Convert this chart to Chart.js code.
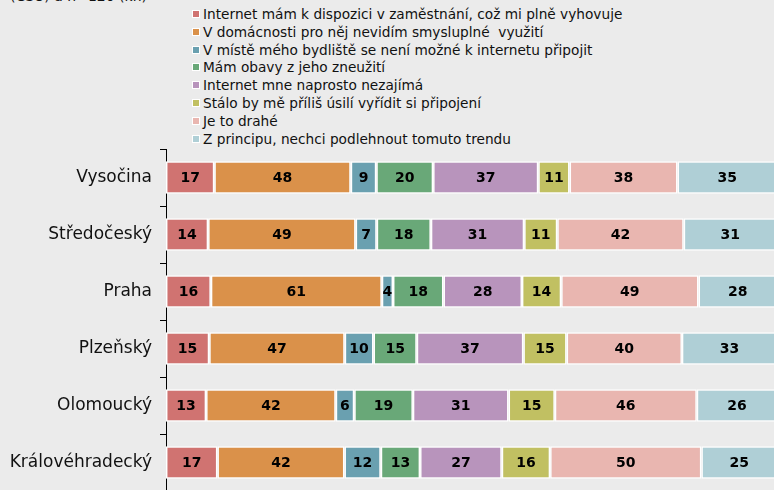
<!DOCTYPE html>
<html>
<head>
<meta charset="utf-8">
<script src="https://cdn.jsdelivr.net/npm/chart.js@4/dist/chart.umd.min.js"></script>
<style>
  html, body { margin: 0; padding: 0; background: #ebebeb; overflow: hidden; width: 774px; height: 490px; }
  #wrap { position: relative; width: 774px; height: 490px; overflow: hidden; }
  #note { position: absolute; left: 10px; top: -12px; font: 14px "DejaVu Sans", Verdana, sans-serif; color: #111; }
  #legend { position: absolute; left: 192px; top: 6px; font: 13.7px "DejaVu Sans", Verdana, sans-serif; color: #111; }
  #legend div { height: 17.8px; line-height: 17.8px; white-space: pre; }
  #legend span.box { display: inline-block; width: 6px; height: 6px; margin-right: 3px; vertical-align: 1px; border: 1px solid #fff; }
  canvas { position: absolute; left: 0; top: 0; }
</style>
</head>
<body>
<div id="wrap">
  <div id="note">(ČSÚ) a n=120 (kh)</div>
  <div id="legend"></div>
  <canvas id="myChart" width="777" height="491"></canvas>
</div>
<script>
const regions = ['Vysočina', 'Středočeský', 'Praha', 'Plzeňský', 'Olomoucký', 'Královéhradecký'];

const seriesNames = [
    'Internet mám k dispozici v zaměstnání, což mi plně vyhovuje',
    'V domácnosti pro něj nevidím smysluplné  využití',
    'V místě mého bydliště se není možné k internetu připojit',
    'Mám obavy z jeho zneužití',
    'Internet mne naprosto nezajímá',
    'Stálo by mě příliš úsilí vyřídit si připojení',
    'Je to drahé',
    'Z principu, nechci podlehnout tomuto trendu'
];

const colors = ['#d07371', '#da914a', '#6aa0b0', '#69a878', '#b894bc', '#c1c062', '#e9b6b0', '#afcfd6'];

// values per answer, in the order of regions
const zamestnani = [17, 14, 16, 15, 13, 17];
const nevyuziti  = [48, 49, 61, 47, 42, 42];
const nelzePripojit = [9, 7, 4, 10, 6, 12];
const obavy      = [20, 18, 18, 15, 19, 13];
const nezajima   = [37, 31, 28, 37, 31, 27];
const usili      = [11, 11, 14, 15, 15, 16];
const drahe      = [38, 42, 49, 40, 46, 50];
const zPrincipu  = [35, 31, 28, 33, 26, 25];

const allSeries = [zamestnani, nevyuziti, nelzePripojit, obavy, nezajima, usili, drahe, zPrincipu];

// each bar is stretched to 100 %, the labels keep the raw counts
let rowTotals = regions.map((r, i) => allSeries.reduce((s, arr) => s + arr[i], 0));

let datasets = allSeries.map((arr, k) => ({
    label: seriesNames[k],
    data: arr.map((v, i) => v / rowTotals[i] * 100),
    raw: arr,
    backgroundColor: colors[k],
    borderColor: '#ffffff',
    borderWidth: 1.5,
    borderSkipped: false,
    categoryPercentage: 1,
    barPercentage: 0.57
}));

// html legend
let legend = document.getElementById('legend');
datasets.forEach(ds => {
    let row = document.createElement('div');
    let box = document.createElement('span');
    box.className = 'box';
    box.style.background = ds.backgroundColor;
    row.appendChild(box);
    row.appendChild(document.createTextNode(ds.label));
    legend.appendChild(row);
});

const valueLabels = {
    id: 'valueLabels',
    afterDatasetsDraw(chart) {
        let ctx = chart.ctx;
        ctx.save();
        ctx.font = 'bold 14px "DejaVu Sans", Verdana, sans-serif';
        ctx.fillStyle = '#000';
        ctx.textAlign = 'center';
        ctx.textBaseline = 'middle';
        chart.data.datasets.forEach((ds, k) => {
            let meta = chart.getDatasetMeta(k);
            meta.data.forEach((bar, i) => {
                let p = bar.getCenterPoint();
                ctx.fillText(ds.raw[i], p.x, p.y + 1);
            });
        });
        ctx.restore();
    }
};

let ctx = document.getElementById('myChart').getContext('2d');
let myChart = new Chart(ctx, {
    type: 'bar',
    data: {
        labels: regions,
        datasets: datasets
    },
    options: {
        indexAxis: 'y',
        responsive: false,
        animation: false,
        layout: { padding: { top: 149, left: 0, right: 0, bottom: 0 } },
        plugins: {
            legend: { display: false },
            tooltip: { enabled: false }
        },
        scales: {
            x: {
                stacked: true,
                min: 0,
                max: 100,
                display: false
            },
            y: {
                stacked: true,
                afterFit(scale) {
                    scale.width = 166;
                    scale.paddingTop = 0;
                    scale.paddingBottom = 0;
                },
                grid: {
                    drawOnChartArea: false,
                    color: '#000',
                    tickLength: 6,
                    offset: true
                },
                border: { display: true, color: '#000', width: 1 },
                ticks: {
                    color: '#111',
                    padding: 8,
                    font: { family: '"DejaVu Sans", Verdana, sans-serif', size: 17 }
                }
            }
        }
    },
    plugins: [valueLabels]
});
</script>
</body>
</html>
